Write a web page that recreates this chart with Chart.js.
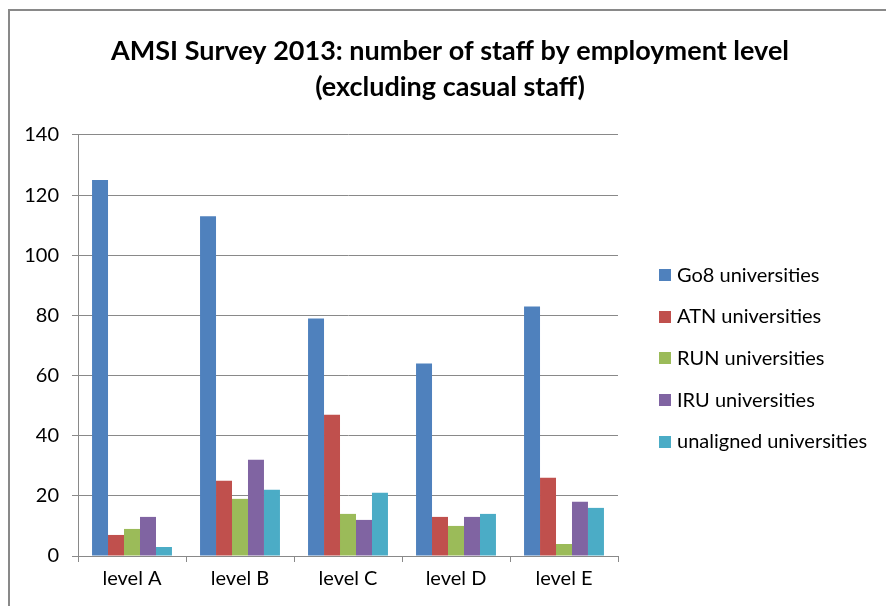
<!DOCTYPE html>
<html>
<head>
<meta charset="utf-8">
<script src="https://cdn.jsdelivr.net/npm/chart.js@4.4.0/dist/chart.umd.min.js"></script>
<style>
    html, body { margin: 0; padding: 0; background: #fff; overflow: hidden; }
    #frame { position: absolute; left: 8px; top: 9px; width: 900px; height: 620px; border: 2px solid #898989; }
    #wrap { position: absolute; left: 0; top: 0; width: 886px; height: 606px; }
</style>
</head>
<body>
<div id="frame"></div>
<div id="wrap"><canvas id="staff_levels" width="886" height="606"></canvas></div>
<script>
(function () {
    "use strict";

    // survey data
    const levels = ["level A", "level B", "level C", "level D", "level E"];
    const groups = ["Go8 universities", "ATN universities", "RUN universities", "IRU universities", "unaligned universities"];
    const go8 = [125, 113, 79, 64, 83];
    const atn = [7, 25, 47, 13, 26];
    const run = [9, 19, 14, 10, 4];
    const iru = [13, 32, 12, 13, 18];
    const unaligned = [3, 22, 21, 14, 16];
    const yTicks = [0, 20, 40, 60, 80, 100, 120, 140];

    const series = [go8, atn, run, iru, unaligned];
    const colours = ["#4F81BD", "#C0504D", "#9BBB59", "#8064A2", "#4BACC6"];
    const gridColour = "#898989";
    const font = "Lato, 'Open Sans', sans-serif";

    // legend on the right, drawn next to the plot area
    const sideLegend = {
        id: 'sideLegend',
        afterDraw(chart) {
            const { ctx, chartArea } = chart;
            const rowGap = 41.7;
            const boxX = chartArea.right + 41;
            let y = (chartArea.top + chartArea.bottom) / 2 + 13 - 2 * rowGap;
            ctx.save();
            ctx.font = "20px " + font;
            ctx.textBaseline = 'middle';
            chart.data.datasets.forEach((ds) => {
                ctx.fillStyle = ds.backgroundColor;
                ctx.fillRect(boxX, Math.round(y) - 6, 12, 12);
                ctx.fillStyle = "#000";
                ctx.fillText(ds.label, boxX + 18, y);
                y += rowGap;
            });
            ctx.restore();
        }
    };

    const ctx = document.getElementById("staff_levels").getContext('2d');

    new Chart(ctx, {
        type: 'bar',
        data: {
            labels: levels,
            datasets: series.map((values, i) => ({
                label: groups[i],
                data: values,
                backgroundColor: colours[i],
                borderWidth: 0,
                categoryPercentage: 0.74,
                barPercentage: 1.0
            }))
        },
        options: {
            responsive: false,
            animation: false,
            layout: {
                padding: { left: 14, right: 0, top: 0, bottom: 10 }
            },
            plugins: {
                title: {
                    display: true,
                    text: ["AMSI Survey 2013: number of staff by employment level", "(excluding casual staff)"],
                    color: "#000",
                    font: { family: font, size: 27, weight: 'bold', lineHeight: 1.333 },
                    padding: { top: 33, bottom: 30 }
                },
                legend: { display: false },
                tooltip: { enabled: false }
            },
            scales: {
                x: {
                    grid: { offset: true, drawOnChartArea: false, drawTicks: true, tickLength: 6, color: gridColour },
                    border: { color: gridColour },
                    ticks: { color: "#000", padding: 5, font: { family: font, size: 20 } }
                },
                y: {
                    min: yTicks[0],
                    max: yTicks[yTicks.length - 1],
                    afterBuildTicks: (scale) => { scale.ticks = yTicks.map(v => ({ value: v })); },
                    afterFit: (scale) => { scale.width = 64; },
                    grid: { color: gridColour, tickLength: 6 },
                    border: { color: gridColour },
                    ticks: { color: "#000", padding: 13, font: { family: font, size: 20 } }
                },
                // empty right-hand space reserved for the legend
                legendSpace: {
                    position: 'right',
                    display: true,
                    grid: { display: false },
                    border: { display: false },
                    ticks: { display: false },
                    afterFit: (scale) => { scale.width = 268; }
                }
            }
        },
        plugins: [sideLegend]
    });
})();
</script>
</body>
</html>
